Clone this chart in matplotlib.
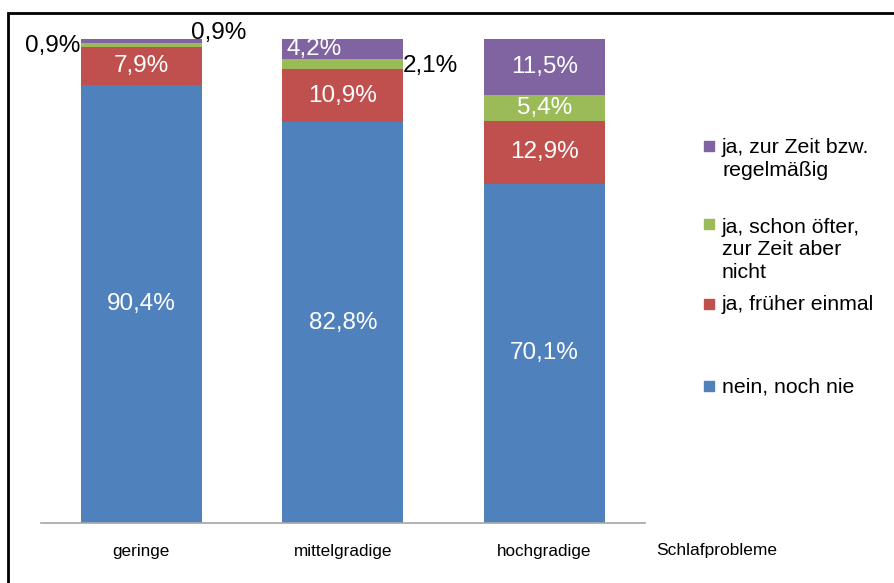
import matplotlib.pyplot as plt
from matplotlib.patches import Rectangle

plt.rcParams['font.family'] = ['Liberation Sans', 'DejaVu Sans']

# data
categories = ['geringe', 'mittelgradige', 'hochgradige']
series = ['nein, noch nie', 'ja, früher einmal',
          'ja, schon öfter,\nzur Zeit aber\nnicht', 'ja, zur Zeit bzw.\nregelmäßig']
nie = [90.4, 82.8, 70.1]
frueher = [7.9, 10.9, 12.9]
oefter = [0.9, 2.1, 5.4]
regel = [0.9, 4.2, 11.5]
colors = ['#4F81BD', '#C0504D', '#9BBB59', '#8064A2']

values = [nie, frueher, oefter, regel]

fig = plt.figure(figsize=(8.94, 5.83), dpi=100)
ax = fig.add_axes([40.5 / 894, 60 / 583, 604.5 / 894, 484 / 583])

x = range(len(categories))
bottom = [0, 0, 0]
for vals, col in zip(values, colors):
    ax.bar(x, vals, width=0.60, bottom=bottom, color=col, zorder=2)
    bottom = [b + v for b, v in zip(bottom, vals)]

def fmt(v):
    return f'{v:.1f}%'.replace('.', ',')

# labels inside bars (white)
fs = 17.5
for i in range(3):
    ax.text(i, nie[i] / 2, fmt(nie[i]), color='white', fontsize=fs,
            ha='center', va='center')
    ax.text(i, nie[i] + frueher[i] / 2, fmt(frueher[i]), color='white',
            fontsize=fs, ha='center', va='center')

# hochgradige small segments
b2 = nie[2] + frueher[2]
ax.text(2, b2 + oefter[2] / 2, fmt(oefter[2]), color='white', fontsize=fs,
        ha='center', va='center')
ax.text(2, b2 + oefter[2] + regel[2] / 2, fmt(regel[2]), color='white',
        fontsize=fs, ha='center', va='center')

# mittelgradige
b1 = nie[1] + frueher[1]
ax.text(1 + 0.30, b1 + oefter[1] / 2 - 0.4, fmt(oefter[1]), color='black',
        fontsize=fs, ha='left', va='center')
ax.text(1 - 0.14, b1 + oefter[1] + regel[1] / 2, fmt(regel[1]), color='white',
        fontsize=fs, ha='center', va='center')

# geringe outside labels
b0 = nie[0] + frueher[0]
ax.text(-0.3, b0 + 0.2, fmt(oefter[0]), color='black', fontsize=fs,
        ha='right', va='center')
ax.text(0.245, 101.2, fmt(regel[0]), color='black', fontsize=fs,
        ha='left', va='center', clip_on=False)

ax.set_xlim(-0.5, 2.5)
ax.set_ylim(0, 100)
ax.set_xticks(list(x))
ax.set_xticklabels(categories, fontsize=12.3)
ax.tick_params(axis='x', length=0, pad=15)
ax.set_yticks([])
for s in ['left', 'right', 'top']:
    ax.spines[s].set_visible(False)
ax.spines['bottom'].set_color('#A6A6A6')
ax.spines['bottom'].set_linewidth(1.2)

fig.text(717 / 894, 1 - 550 / 583, 'Schlafprobleme', fontsize=12.5,
         ha='center', va='center')

# legend (manual, Excel-like spacing)
leg_y = [387, 305, 250, 159]
for lab, col, yy in zip(series, colors, leg_y):
    nlines = lab.count('\n') + 1
    top_line = yy - (nlines - 1) * 24.5 / 2
    fig.add_artist(Rectangle((704 / 894, 1 - (top_line + 4) / 583),
                             10 / 894, 10 / 583, color=col,
                             transform=fig.transFigure))
    fig.text(722 / 894, 1 - yy / 583, lab, fontsize=15.3, ha='left',
             va='center', linespacing=1.25)

# frame
fig.add_artist(Rectangle((8 / 894, -0.05), 1.0, 1 - 13 / 583 + 0.05,
                         fill=False, edgecolor='black', linewidth=2,
                         transform=fig.transFigure))

plt.savefig('out.png', dpi=100)
plt.close(fig)
